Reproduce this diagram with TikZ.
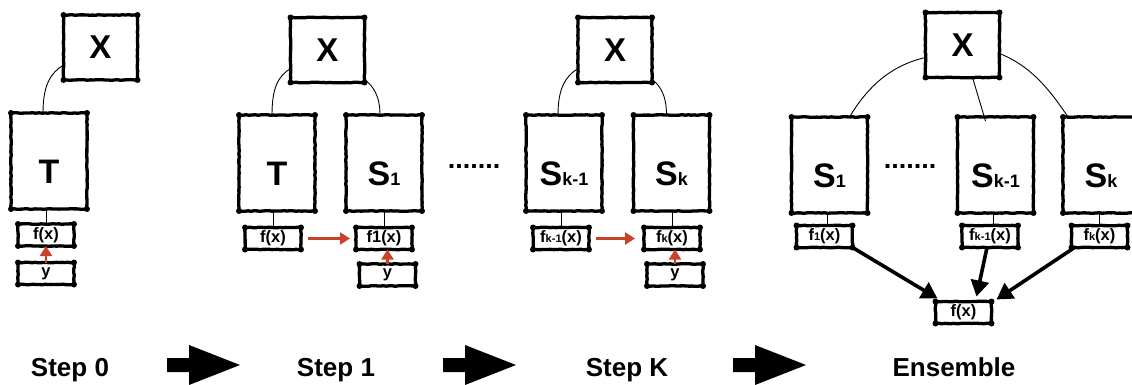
\documentclass[tikz,border=0pt]{standalone}
\usepackage{fontspec}
\setmainfont{Liberation Sans}
\usetikzlibrary{arrows.meta,calc,decorations.pathmorphing}
\definecolor{redarr}{RGB}{200,65,40}
\newcommand{\fsz}[1]{\fontsize{#1}{#1}\selectfont}
\newcommand{\boxlbl}[1]{\raisebox{-22pt}[0pt][0pt]{#1}}
\newcommand{\smallsub}[1]{{\fsz{18}#1}}
\newcommand{\fsub}[1]{{\fsz{11}#1}}
\tikzset{
  sk/.style={draw, line width=3.3pt, line join=round, outer sep=0pt, inner sep=0pt,
    decorate, decoration={random steps, segment length=3pt, amplitude=0.35pt}},
  xbox/.style={sk, minimum width=74pt, minimum height=65pt, font=\bfseries\fsz{33}},
  bigbox/.style={sk, minimum width=76pt, minimum height=96pt, font=\bfseries\fsz{34}},
  smallbox/.style={sk, minimum width=56pt, minimum height=22pt, font=\bfseries\fsz{16.5}},
  link/.style={line width=0.9pt},
  redarrow/.style={draw=redarr, line width=2.3pt, -{Triangle[length=10pt,width=12pt]}},
  blackarrow/.style={line width=3.6pt, -{Triangle[length=16pt,width=18pt]}},
  steplabel/.style={font=\bfseries\fsz{26}, anchor=base},
  dotrow/.style={font=\bfseries\fsz{27}, inner sep=0pt},
}
\begin{document}
\begin{tikzpicture}[x=1pt,y=-1pt]
\useasboundingbox (0,0) rectangle (1132,385);
\clip (0,0) rectangle (1132,385);
% Step 0
\node[xbox] (x0) at (100.5,47.5) {X};
\node[bigbox] (t0) at (49,161) {\boxlbl{T}};
\node[smallbox] (f0) at (46,235) {f(x)};
\node[smallbox] (y0) at (46,273.5) {y};
% Step 1
\node[xbox] (x1) at (327.5,50) {X};
\node[bigbox] (t1) at (277,163) {\boxlbl{T}};
\node[bigbox] (s1) at (384,163) {\boxlbl{S\smallsub{1}}};
\node[smallbox] (f1a) at (273,238.5) {f(x)};
\node[smallbox] (f1b) at (384,238.5) {f1(x)};
\node[smallbox] (y1) at (387.5,275) {y};
\node[dotrow] (d1) at (474,166) {.......};
% Step K
\node[xbox] (xk) at (615,50) {X};
\node[bigbox] (sk1) at (564,163) {\boxlbl{S\smallsub{k-1}}};
\node[bigbox] (sk) at (671.5,163) {\boxlbl{S\smallsub{k}}};
\node[smallbox] (fk1) at (561,238.5) {f\fsub{k-1}(x)};
\node[smallbox] (fk) at (672,238.5) {f\fsub{k}(x)};
\node[smallbox] (yk) at (675,275) {y};
% Ensemble
\node[xbox] (xe) at (962.5,45) {X};
\node[bigbox] (es1) at (829.5,165) {\boxlbl{S\smallsub{1}}};
\node[bigbox] (esk1) at (995.5,165) {\boxlbl{S\smallsub{k-1}}};
\node[bigbox] (esk) at (1101,165) {\boxlbl{S\smallsub{k}}};
\node[smallbox] (ef1) at (824.5,236.5) {f\fsub{1}(x)};
\node[smallbox] (efk1) at (990,236.5) {f\fsub{k-1}(x)};
\node[smallbox] (efk) at (1099.5,236.5) {f\fsub{k}(x)};
\node[smallbox] (ef) at (963.5,312.5) {f(x)};
\node[dotrow] (de) at (910,166) {.......};
% corner blobs
\foreach \n in {x0,t0,f0,y0,x1,t1,s1,f1a,f1b,y1,xk,sk1,sk,fk1,fk,yk,xe,es1,esk1,esk,ef1,efk1,efk,ef}
  \foreach \c in {north west,north east,south west,south east}
    \fill (\n.\c) circle (3pt);
% connectors from X
\draw[link] ($(x0.south west)+(0,-15)$) .. controls +(-13,8) and +(0,-28) .. ($(t0.north)+(-6,0)$);
\draw[link] ($(x1.south west)+(0,-14)$) .. controls +(-13,8) and +(0,-26) .. ($(t1.north)+(-5,0)$);
\draw[link] ($(x1.south east)+(0,-3)$) .. controls +(8,6) and +(0,-20) .. ($(s1.north)+(-4,0)$);
\draw[link] ($(xk.south west)+(0,-14)$) .. controls +(-13,8) and +(0,-26) .. ($(sk1.north)+(-6,0)$);
\draw[link] ($(xk.south east)+(0,-3)$) .. controls +(8,6) and +(0,-20) .. ($(sk.north)+(-5,0)$);
\draw[link] ($(xe.south west)+(0,-20)$) .. controls +(-35,8) and +(18,-30) .. ($(es1.north)+(20,0)$);
\draw[link] ($(xe.south)+(10,0)$) -- ($(esk1.north)+(-10,4)$);
\draw[link] ($(xe.south east)+(0,-24)$) .. controls +(30,12) and +(-20,-30) .. ($(esk.north)+(-33,0)$);
% box to output
\draw[link] (f0.north |- t0.south) -- (f0.north);
\draw[link] (f1a.north |- t1.south) -- (f1a.north);
\draw[link] (f1b.north |- s1.south) -- (f1b.north);
\draw[link] (fk1.north |- sk1.south) -- (fk1.north);
\draw[link] (fk.north |- sk.south) -- (fk.north);
\draw[link] ($(es1.south)+(-2.5,0)$) -- ($(ef1.north)+(2.5,0)$);
\draw[link] ($(esk1.south)+(-2.5,0)$) -- ($(efk1.north)+(3,0)$);
\draw[link] (efk.north |- esk.south) -- (efk.north);
% red arrows
\draw[redarrow] (y0.north) -- (f0.south);
\draw[redarrow, shorten <=7pt, shorten >=6pt] (f1a.east) -- (f1b.west);
\draw[redarrow] (y1.north) -- (y1.north |- f1b.south);
\draw[redarrow, shorten <=7pt, shorten >=9pt] (fk1.east) -- (fk.west);
\draw[redarrow] (yk.north) -- (yk.north |- fk.south);
% ensemble arrows
\draw[blackarrow] (ef1.south east) -- ($(ef.north west)+(2,-3)$);
\draw[blackarrow] ($(efk1.south)+(-3,0)$) -- ($(ef.north)+(13,-5)$);
\draw[blackarrow] ($(efk.south west)+(3,0)$) -- ($(ef.north east)+(5,-2)$);
% big step arrows
\foreach \s in {0,276,566}
  \fill[shift={(\s,0)}] (167,358) -- (189,358) -- (189,345) -- (240,365) -- (189,385) -- (189,372) -- (167,372) -- cycle;
% labels
\node[steplabel] (l0) at (70,376) {Step 0};
\node[steplabel] (l1) at (336,376) {Step 1};
\node[steplabel] (lk) at (627,376) {Step K};
\node[steplabel] (le) at (954,376) {Ensemble};
\end{tikzpicture}
\end{document}
